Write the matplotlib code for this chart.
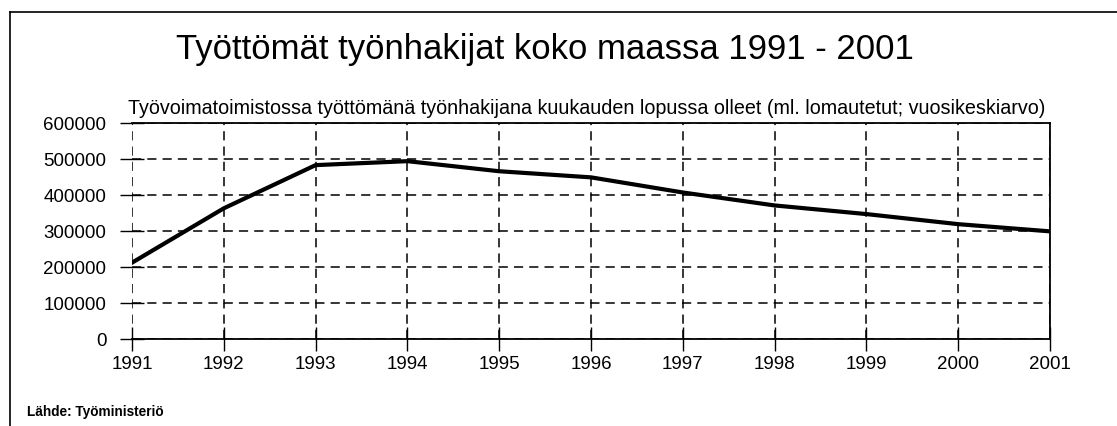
import matplotlib.pyplot as plt
from matplotlib.lines import Line2D

plt.rcParams['font.family'] = ['Liberation Sans', 'DejaVu Sans']

years = [1991, 1992, 1993, 1994, 1995, 1996, 1997, 1998, 1999, 2000, 2001]
unemployed = [212000, 363000, 483000, 494000, 466000, 449000, 407000,
              371000, 347000, 319000, 299000]
yticks = [0, 100000, 200000, 300000, 400000, 500000, 600000]

fig = plt.figure(figsize=(11.17, 4.27), dpi=100)
ax = fig.add_axes([132 / 1117, 1 - 340 / 427, (1050 - 132) / 1117, (340 - 124) / 427])

ax.plot(years, unemployed, color='black', lw=3.0, solid_joinstyle='round', zorder=3)

ax.set_xlim(1991, 2001)
ax.set_ylim(0, 600000)
ax.set_xticks(years)
ax.set_yticks(yticks)
ax.set_yticklabels([str(v) for v in yticks])
ax.grid(True, color='black', ls=(0, (6, 4)), lw=1.1)
ax.tick_params(axis='y', direction='inout', length=17, width=1.0, pad=10, labelsize=13.5)
ax.tick_params(axis='x', direction='inout', length=17, width=1.0, pad=3, labelsize=13.5)
ax.spines['left'].set_visible(False)
for side in ['top', 'right', 'bottom']:
    ax.spines[side].set_linewidth(1.3)

fig.text(545 / 1117, 1 - 50 / 427, 'Työttömät työnhakijat koko maassa 1991 - 2001',
         ha='center', va='center', fontsize=25)
fig.text(587 / 1117, 1 - 108 / 427,
         'Työvoimatoimistossa työttömänä työnhakijana kuukauden lopussa olleet (ml. lomautetut; vuosikeskiarvo)',
         ha='center', va='center', fontsize=14.2)
fig.text(27 / 1117, 1 - 412 / 427, 'Lähde: Työministeriö', ha='left', va='center',
         fontsize=9.8, fontweight='bold')

# outer frame, top and left edges
fig.add_artist(Line2D([10 / 1117, 1], [1 - 13 / 427, 1 - 13 / 427], color='black', lw=1.2))
fig.add_artist(Line2D([10 / 1117, 10 / 1117], [0, 1 - 13 / 427], color='black', lw=1.2))

fig.savefig('out.png', dpi=100)
